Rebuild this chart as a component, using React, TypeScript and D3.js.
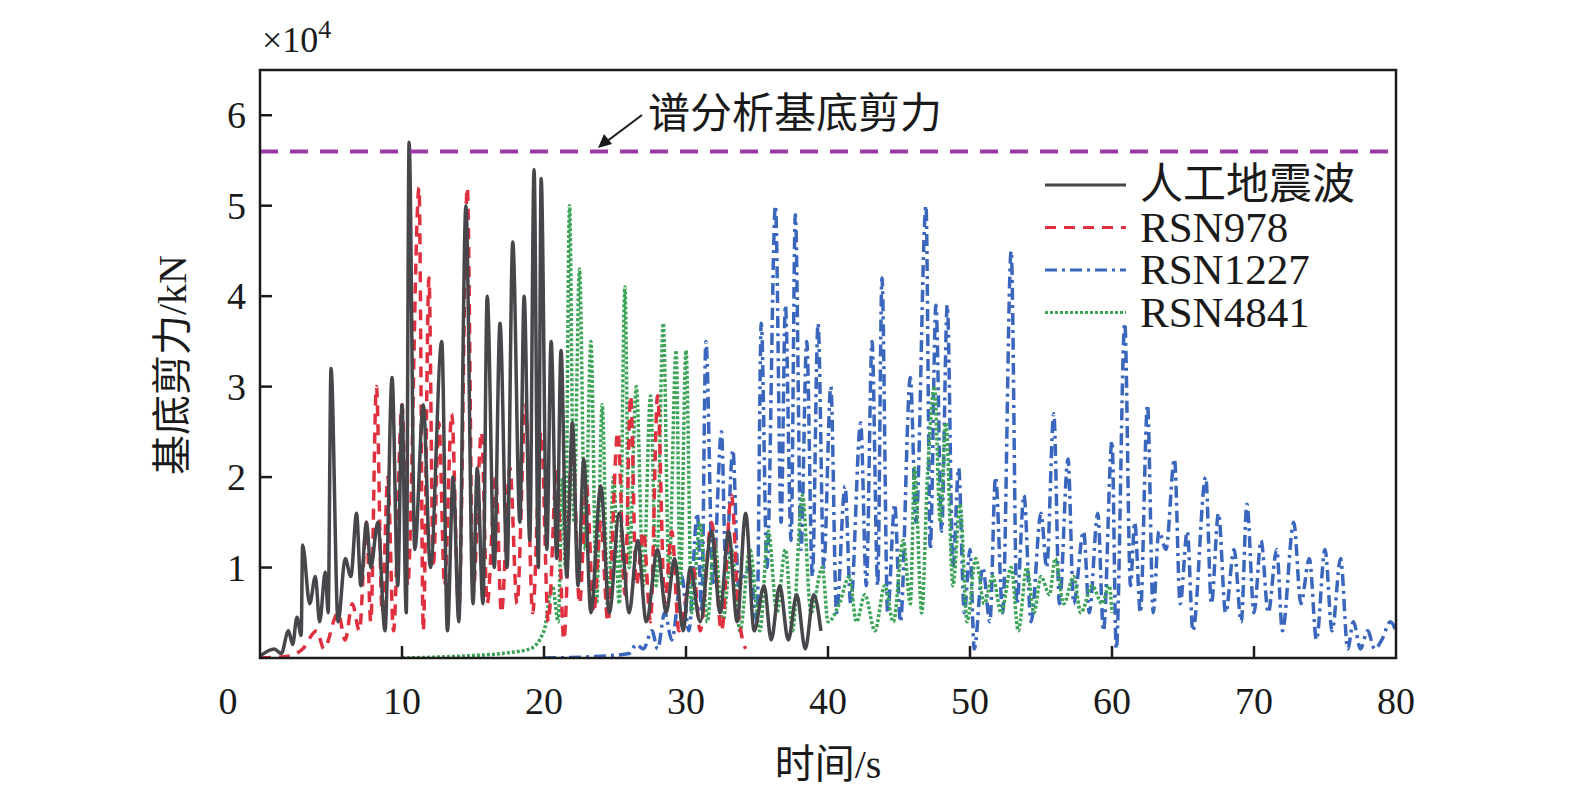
import React, { useEffect, useRef } from 'react';
import * as d3 from 'd3';

// [time (s), base shear (x10^4 kN)]
const artificialWave: [number, number][] = [
  [0, 0.02], [1, 0.1], [1.5, 0.05], [2, 0.3], [2.3, 0.15], [2.6, 0.45], [2.9, 0.25], [3.0, 1.25], [3.5, 0.6], [3.9, 0.9],
  [4.2, 0.4], [4.6, 0.95], [4.8, 0.5], [5.0, 3.2], [5.5, 0.4], [6.0, 1.1], [6.4, 0.9], [6.8, 1.6], [7.1, 0.8], [7.5, 1.5],
  [7.8, 1.0], [8.3, 1.5], [8.8, 0.3], [9.3, 3.1], [9.7, 0.8], [10.0, 2.8], [10.3, 0.5], [10.5, 5.7], [10.9, 1.2], [11.5, 2.8],
  [12.0, 1.0], [12.8, 3.5], [13.2, 0.3], [13.6, 2.0], [14.0, 0.4], [14.5, 5.0], [15.0, 0.6], [15.3, 2.1], [15.7, 0.6], [16.0, 4.0],
  [16.5, 1.0], [16.9, 3.7], [17.4, 1.0], [17.8, 4.6], [18.3, 1.5], [18.6, 4.0], [19.0, 1.3], [19.3, 5.4], [19.6, 1.0], [19.8, 5.3],
  [20.2, 1.2], [20.5, 3.5], [20.9, 1.1], [21.2, 3.4], [21.6, 0.9], [22.0, 2.6], [22.4, 0.8], [22.8, 2.2], [23.3, 0.5], [24.0, 1.9],
  [24.6, 0.5], [25.3, 1.6], [26.0, 0.5], [26.6, 1.3], [27.2, 0.4], [28.0, 1.2], [28.6, 0.5], [29.2, 1.1], [29.8, 0.3], [30.3, 1.0],
  [31.0, 0.4], [31.8, 1.4], [32.4, 0.5], [33.0, 1.4], [33.6, 0.4], [34.2, 1.6], [34.8, 0.3], [35.5, 0.8], [36.0, 0.2], [36.6, 0.8],
  [37.2, 0.2], [37.8, 0.7], [38.4, 0.1], [39.0, 0.7], [39.5, 0.3],
];

const rsn978: [number, number][] = [
  [0, 0], [2, 0.02], [3, 0.1], [4, 0.3], [4.5, 0.1], [5.5, 0.5], [6.0, 0.2], [6.5, 0.6], [7, 0.3], [7.5, 1.5],
  [7.8, 0.4], [8.2, 3.0], [8.6, 0.5], [9, 2.0], [9.4, 0.3], [10, 2.8], [10.4, 0.8], [11.2, 5.2], [11.5, 0.3], [11.9, 4.2],
  [12.2, 1.0], [12.6, 2.6], [13.0, 0.8], [13.5, 2.7], [14.0, 0.5], [14.6, 5.2], [15, 0.7], [15.6, 2.5], [16, 0.6], [16.6, 2.0],
  [17, 0.5], [17.6, 2.1], [18.1, 0.6], [18.7, 2.8], [19.2, 0.5], [19.8, 2.5], [20.3, 0.4], [20.9, 2.1], [21.4, 0.2], [22, 2.4],
  [22.5, 0.6], [23, 1.9], [23.5, 0.5], [24, 1.5], [24.5, 0.4], [25.2, 2.5], [25.7, 0.7], [26.1, 2.9], [26.5, 0.8], [27, 1.4],
  [27.5, 0.4], [28, 2.9], [28.5, 0.6], [29, 1.4], [29.5, 0.3], [30.5, 1.0], [31, 0.3], [31.8, 1.5], [32.5, 0.3], [33.2, 1.8],
  [33.7, 0.5], [34.2, 0.1],
];

const rsn1227: [number, number][] = [
  [20, 0], [24, 0.02], [26, 0.05], [26.5, 0.15], [27, 0.1], [27.6, 0.3], [28, 0.1], [28.5, 0.5], [29, 0.2], [29.7, 0.9],
  [30.2, 0.3], [30.8, 1.6], [31.1, 0.5], [31.4, 3.5], [31.9, 0.8], [32.5, 2.5], [32.8, 1.0], [33.3, 2.3], [33.7, 0.8], [34.5, 1.0],
  [35, 0.4], [35.3, 3.7], [35.7, 1.0], [36.3, 5.0], [36.7, 1.5], [37.0, 3.9], [37.4, 1.3], [37.7, 4.9], [38.1, 1.2], [38.5, 3.5],
  [38.9, 0.9], [39.3, 3.7], [39.7, 1.0], [40.2, 3.0], [40.6, 0.5], [41.2, 1.9], [41.6, 0.6], [42.3, 2.6], [42.7, 0.8], [43.1, 3.5],
  [43.5, 0.8], [43.8, 4.2], [44.2, 0.5], [44.7, 1.7], [45.1, 0.4], [45.8, 3.1], [46.2, 1.5], [46.9, 5.0], [47.2, 1.2], [47.6, 3.9],
  [48.0, 1.4], [48.4, 3.9], [48.8, 1.0], [49.2, 2.1], [49.6, 0.5], [50.0, 1.2], [50.3, 0.1], [50.9, 1.0], [51.4, 0.4], [51.8, 2.0],
  [52.3, 0.5], [52.9, 4.5], [53.3, 0.6], [53.8, 1.8], [54.3, 0.4], [55, 1.6], [55.4, 1.0], [55.9, 2.7], [56.3, 0.6], [56.9, 2.2],
  [57.3, 0.6], [58, 1.4], [58.4, 0.5], [59.0, 1.6], [59.4, 0.3], [60.0, 2.4], [60.3, 0.1], [60.9, 3.7], [61.3, 0.8], [61.6, 1.5],
  [62.0, 0.5], [62.5, 2.8], [62.9, 0.5], [63.3, 1.4], [63.8, 1.2], [64.4, 2.2], [64.8, 0.6], [65.3, 1.4], [65.7, 0.3], [66.6, 2.0],
  [67, 0.6], [67.5, 1.6], [68, 0.5], [68.6, 1.2], [69.1, 0.4], [69.5, 1.7], [70, 0.5], [70.5, 1.3], [71.0, 0.5], [71.6, 1.2],
  [72, 0.3], [72.8, 1.5], [73.3, 0.6], [73.9, 1.1], [74.4, 0.2], [75.0, 1.2], [75.5, 0.3], [76.1, 1.1], [76.6, 0.1], [77.0, 0.4],
  [77.5, 0.1], [78, 0.3], [78.5, 0.1], [79, 0.2], [79.6, 0.4], [80, 0.3],
];

const rsn4841: [number, number][] = [
  [10, 0], [14, 0.02], [17, 0.05], [19, 0.1], [20, 0.3], [20.6, 0.8], [21.0, 0.4], [21.3, 2.0], [21.5, 1.0], [21.8, 5.0],
  [22.1, 1.5], [22.5, 4.3], [22.9, 1.2], [23.3, 3.5], [23.7, 0.6], [24.1, 2.8], [24.5, 0.5], [24.9, 2.0], [25.3, 0.6], [25.7, 4.1],
  [26.0, 1.0], [26.5, 3.0], [27, 0.8], [27.5, 2.9], [27.9, 0.8], [28.4, 3.7], [28.8, 0.9], [29.3, 3.4], [29.6, 0.8], [30.0, 3.4],
  [30.4, 0.5], [31, 1.5], [31.5, 0.4], [32, 1.3], [32.6, 0.4], [33.2, 1.2], [33.8, 0.3], [34.5, 1.2], [35.2, 0.3], [35.8, 1.4],
  [36.4, 0.5], [37, 1.2], [37.5, 0.3], [38.2, 1.8], [38.8, 0.5], [39.6, 1.0], [40, 0.4], [40.8, 0.6], [41.5, 0.9], [42.0, 0.4],
  [42.6, 0.7], [43.3, 0.3], [44, 0.8], [44.6, 0.4], [45.3, 1.3], [45.8, 0.6], [46.1, 2.1], [46.6, 0.5], [47.0, 2.0], [47.5, 3.0],
  [47.9, 1.5], [48.3, 2.6], [48.8, 0.8], [49.3, 1.7], [49.8, 0.4], [50.4, 1.1], [51, 0.6], [51.6, 0.9], [52.2, 0.5], [52.9, 1.0],
  [53.4, 0.3], [54, 1.0], [54.5, 0.5], [55, 0.9], [55.6, 0.7], [56, 1.1], [56.6, 0.6], [57.3, 0.9], [57.8, 0.5], [58.6, 0.8],
  [59.3, 0.6], [59.8, 0.8], [60, 0.5],
];

const spectrumShear = 5.6;
const xTicks = [0, 10, 20, 30, 40, 50, 60, 70, 80];
const yTicks = [1, 2, 3, 4, 5, 6];

const series = [
  { name: '人工地震波', data: artificialWave, color: '#46464b', dash: 'none', width: 3.5 },
  { name: 'RSN978', data: rsn978, color: '#e0303f', dash: '11,8', width: 3.5 },
  { name: 'RSN1227', data: rsn1227, color: '#3a66bd', dash: '12,5,3,5', width: 3.5 },
  { name: 'RSN4841', data: rsn4841, color: '#3ea458', dash: '3,2', width: 3.5 },
];
// draw order: green/blue behind
const drawOrder = [2, 3, 1, 0];

const serif = '"Liberation Serif", "Times New Roman", serif';
const cjk = '"Liberation Serif", "Noto Sans CJK SC", serif';

export default function App() {
  const ref = useRef<SVGSVGElement>(null);

  useEffect(() => {
    document.body.style.margin = '0';
    document.body.style.overflow = 'hidden';
    const svg = d3.select(ref.current);
    svg.selectAll('*').remove();
    const left = 260, right = 1396, top = 70, bottom = 658;
    const x = d3.scaleLinear().domain([0, 80]).range([left, right]);
    const y = d3.scaleLinear().domain([0, 6.5]).range([bottom, top]);

    svg.append('defs').append('clipPath').attr('id', 'clip')
      .append('rect').attr('x', left).attr('y', top).attr('width', right - left).attr('height', bottom - top);

    const line = d3.line<[number, number]>().x(d => x(d[0])).y(d => y(d[1])).curve(d3.curveMonotoneX);
    const g = svg.append('g').attr('clip-path', 'url(#clip)');
    drawOrder.forEach(i => {
      const s = series[i];
      g.append('path').attr('d', line(s.data)).attr('fill', 'none')
        .attr('stroke', s.color).attr('stroke-width', s.width)
        .attr('stroke-dasharray', s.dash).attr('stroke-linejoin', 'round');
    });

    g.append('line').attr('x1', left).attr('x2', right)
      .attr('y1', y(spectrumShear)).attr('y2', y(spectrumShear))
      .attr('stroke', '#9b3aa5').attr('stroke-width', 4).attr('stroke-dasharray', '18,12');

    // frame
    svg.append('rect').attr('x', left).attr('y', top).attr('width', right - left).attr('height', bottom - top)
      .attr('fill', 'none').attr('stroke', '#1a1a1a').attr('stroke-width', 2.5);

    xTicks.forEach(t => {
      if (t > 0 && t < 80) {
        svg.append('line').attr('x1', x(t)).attr('x2', x(t)).attr('y1', bottom).attr('y2', bottom - 12)
          .attr('stroke', '#1a1a1a').attr('stroke-width', 2.5);
      }
      svg.append('text').attr('x', t === 0 ? x(t) - 32 : x(t)).attr('y', 714).attr('text-anchor', 'middle')
        .attr('font-family', serif).attr('font-size', 38).attr('fill', '#1a1a1a').text(t);
    });
    yTicks.forEach(t => {
      svg.append('line').attr('x1', left).attr('x2', left + 12).attr('y1', y(t)).attr('y2', y(t))
        .attr('stroke', '#1a1a1a').attr('stroke-width', 2.5);
      svg.append('text').attr('x', 246).attr('y', y(t) + 13).attr('text-anchor', 'end')
        .attr('font-family', serif).attr('font-size', 38).attr('fill', '#1a1a1a').text(t);
    });

    const exp = svg.append('text').attr('x', 262).attr('y', 52).attr('font-family', serif)
      .attr('font-size', 36).attr('fill', '#1a1a1a');
    exp.append('tspan').text('×10');
    exp.append('tspan').attr('dy', -14).attr('font-size', 26).text('4');

    svg.append('text').attr('transform', 'translate(186,365) rotate(-90)').attr('text-anchor', 'middle')
      .attr('font-family', cjk).attr('font-size', 40).attr('fill', '#1a1a1a').text('基底剪力/kN');
    svg.append('text').attr('x', 828).attr('y', 778).attr('text-anchor', 'middle')
      .attr('font-family', cjk).attr('font-size', 40).attr('fill', '#1a1a1a').text('时间/s');

    // annotation
    svg.append('text').attr('x', 648).attr('y', 128).attr('font-family', cjk).attr('font-size', 42)
      .attr('fill', '#1a1a1a').text('谱分析基底剪力');
    svg.append('line').attr('x1', 642).attr('y1', 115).attr('x2', 606).attr('y2', 142)
      .attr('stroke', '#1a1a1a').attr('stroke-width', 2);
    svg.append('path').attr('d', 'M598,148 L604,134 L612,144 Z').attr('fill', '#1a1a1a');

    // legend
    series.forEach((s, i) => {
      const ly = 185 + i * 42.5;
      svg.append('line').attr('x1', 1045).attr('x2', 1126).attr('y1', ly).attr('y2', ly)
        .attr('stroke', s.color).attr('stroke-width', 3).attr('stroke-dasharray', s.dash);
      svg.append('text').attr('x', 1140).attr('y', ly + 14).attr('font-family', cjk).attr('font-size', 43)
        .attr('fill', '#1a1a1a').text(s.name);
    });
  }, []);

  return <svg ref={ref} width={1575} height={799} style={{ display: 'block', background: '#fff' }} />;
}
